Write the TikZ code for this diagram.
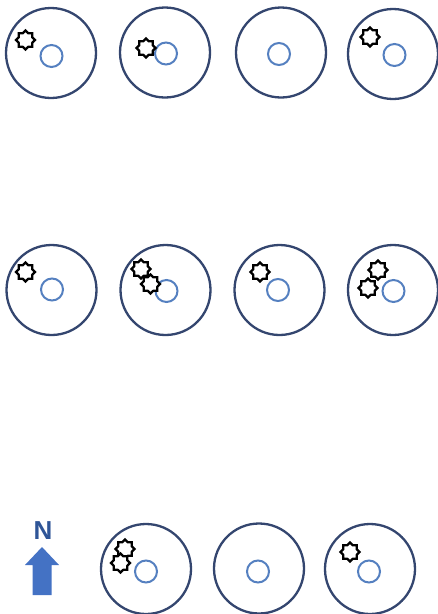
\documentclass[tikz,border=0pt]{standalone}
\usepackage{fontspec}
\setmainfont{Liberation Sans}
\usetikzlibrary{shapes.geometric}
\definecolor{outerc}{HTML}{34466F}
\definecolor{innerc}{HTML}{5580C0}
\definecolor{arrowc}{HTML}{4472C4}
\definecolor{nc}{HTML}{2F5597}
\tikzset{
  disc/.style={circle,draw=outerc,line width=2.3pt,minimum size=90pt,inner sep=0pt},
  hole/.style={circle,draw=innerc,line width=2pt,minimum size=22pt,inner sep=0pt},
  burst/.style={star,star points=8,star point ratio=1.3,draw=black,fill=white,line width=2.2pt,minimum size=19pt,inner sep=0pt},
}
\begin{document}
\begin{tikzpicture}[x=1pt,y=-1pt]
\useasboundingbox (0,0) rectangle (438,614);
% row 1
\node[disc] (d1) at (51,53) {};
\node[hole] (h1) at (51.5,56) {};
\node[burst] (s1) at (25.5,40) {};
\node[disc] (d2) at (165,52.5) {};
\node[hole] (h2) at (166,53.5) {};
\node[burst] (s2) at (146,48) {};
\node[disc] (d3) at (281,52.5) {};
\node[hole] (h3) at (279,54) {};
\node[disc] (d4) at (393,54) {};
\node[hole] (h4) at (394.5,55) {};
\node[burst] (s4) at (370,37) {};
% row 2
\node[disc] (d5) at (51.5,290) {};
\node[hole] (h5) at (52,289.5) {};
\node[burst] (s5) at (25.5,272) {};
\node[disc] (d6) at (165.5,290) {};
\node[hole] (h6) at (166.5,291) {};
\node[burst] (s6a) at (141,269) {};
\node[burst] (s6b) at (150.5,284) {};
\node[disc] (d7) at (279.5,290) {};
\node[hole] (h7) at (278,290) {};
\node[burst] (s7) at (260,272) {};
\node[disc] (d8) at (393,290) {};
\node[hole] (h8) at (393.5,291) {};
\node[burst] (s8a) at (378,270) {};
\node[burst] (s8b) at (368,288) {};
% row 3
\node[disc] (d9) at (146,569) {};
\node[hole] (h9) at (146,571.5) {};
\node[burst] (s9a) at (125,549) {};
\node[burst] (s9b) at (120.5,563) {};
\node[disc] (d10) at (259,568.5) {};
\node[hole] (h10) at (258,571.5) {};
\node[disc] (d11) at (370,569) {};
\node[hole] (h11) at (369,571.5) {};
\node[burst] (s11) at (350,552) {};
% north arrow
\node[text=nc,font=\bfseries\fontsize{26}{26}\selectfont,inner sep=0pt] (n) at (43,530.5) {N};
\coordinate (tip) at (42,547);
\fill[arrowc] (tip) -- ++(17,18) -- ++(-7.5,0) -- ++(0,30) -- ++(-19,0) -- ++(0,-30) -- ++(-7.5,0) -- cycle;
\end{tikzpicture}
\end{document}
